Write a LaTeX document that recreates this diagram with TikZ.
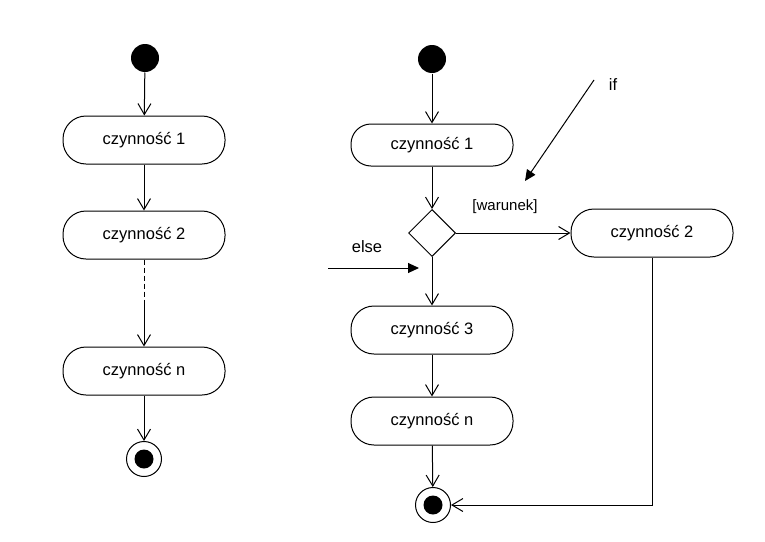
\documentclass[tikz,border=0pt]{standalone}
\usepackage{fontspec}
\setmainfont{Liberation Sans}
\usetikzlibrary{arrows.meta,shapes.geometric}

\begin{document}
\begin{tikzpicture}[x=1pt,y=-1pt,line width=1pt,
    akcja/.style={draw,rectangle,rounded corners=23pt,minimum width=162pt,minimum height=48pt,
        font=\fontsize{16.5}{19}\selectfont},
    start/.style={circle,fill=black,minimum size=28pt,inner sep=0pt},
    koniec/.style={circle,draw,minimum size=35pt,inner sep=0pt,
        path picture={\fill (path picture bounding box.center) circle (9.5pt);}},
    decyzja/.style={draw,diamond,minimum width=47pt,minimum height=47pt,inner sep=0pt},
    opis/.style={font=\fontsize{16.5}{19}\selectfont},
    strz/.style={-{Straight Barb[length=11pt,width=13pt]}},
    pelna/.style={-{Triangle[length=11pt,width=10pt]}}]
            \useasboundingbox (0,0) rectangle (765,541);

            % lewy diagram
            \node[start] (s1) at(145,58) {};
            \node[akcja] (a1) at(144,140) {czynność 1};
            \node[akcja] (a2) at(144,235) {czynność 2};
            \node[akcja] (an) at(144,371) {czynność n};
            \node[koniec] (k1) at(144,459) {};
            \coordinate (przerwa) at(144,303);

            \draw[strz] (s1) -- (a1);
            \draw[strz] (a1) -- (a2);
            \draw[dash pattern=on 5pt off 3pt] (a2) -- (przerwa);
            \draw[strz] (przerwa) -- (an);
            \draw[strz] (an) -- (k1);

            % prawy diagram
            \node[start] (s2) at(432,59) {};
            \node[akcja,minimum height=42pt,rounded corners=20pt] (b1) at(432,145) {czynność 1};
            \node[decyzja] (d) at(432,233) {};
            \node[akcja] (b2) at(652,233) {czynność 2};
            \node[akcja] (b3) at(432,330) {czynność 3};
            \node[akcja] (bn) at(432,421) {czynność n};
            \node[koniec] (k2) at(433,505) {};

            \draw[strz] (s2) -- (b1);
            \draw[strz] (b1) -- (d);
            \draw[strz] (d) -- (b2);
            \draw[strz] (d) -- (b3);
            \draw[strz] (b3) -- (bn);
            \draw[strz] (bn) -- (k2);
            \draw[strz] (b2.south) |- (k2.east);

            % opisy
            \node[opis] (if) at(613,85) {if};
            \node[opis,font=\fontsize{15}{18}\selectfont] (war) at(505,207) {[warunek]};
            \node[opis] (else) at(367,247) {else};
            \coordinate (ifp) at(594,80);
            \coordinate (ifk) at(525,181);
            \coordinate (elp) at(328,268);
            \coordinate (elk) at(419,268);
            \draw[pelna] (ifp) -- (ifk);
            \draw[pelna] (elp) -- (elk);
        \end{tikzpicture}
\end{document}
